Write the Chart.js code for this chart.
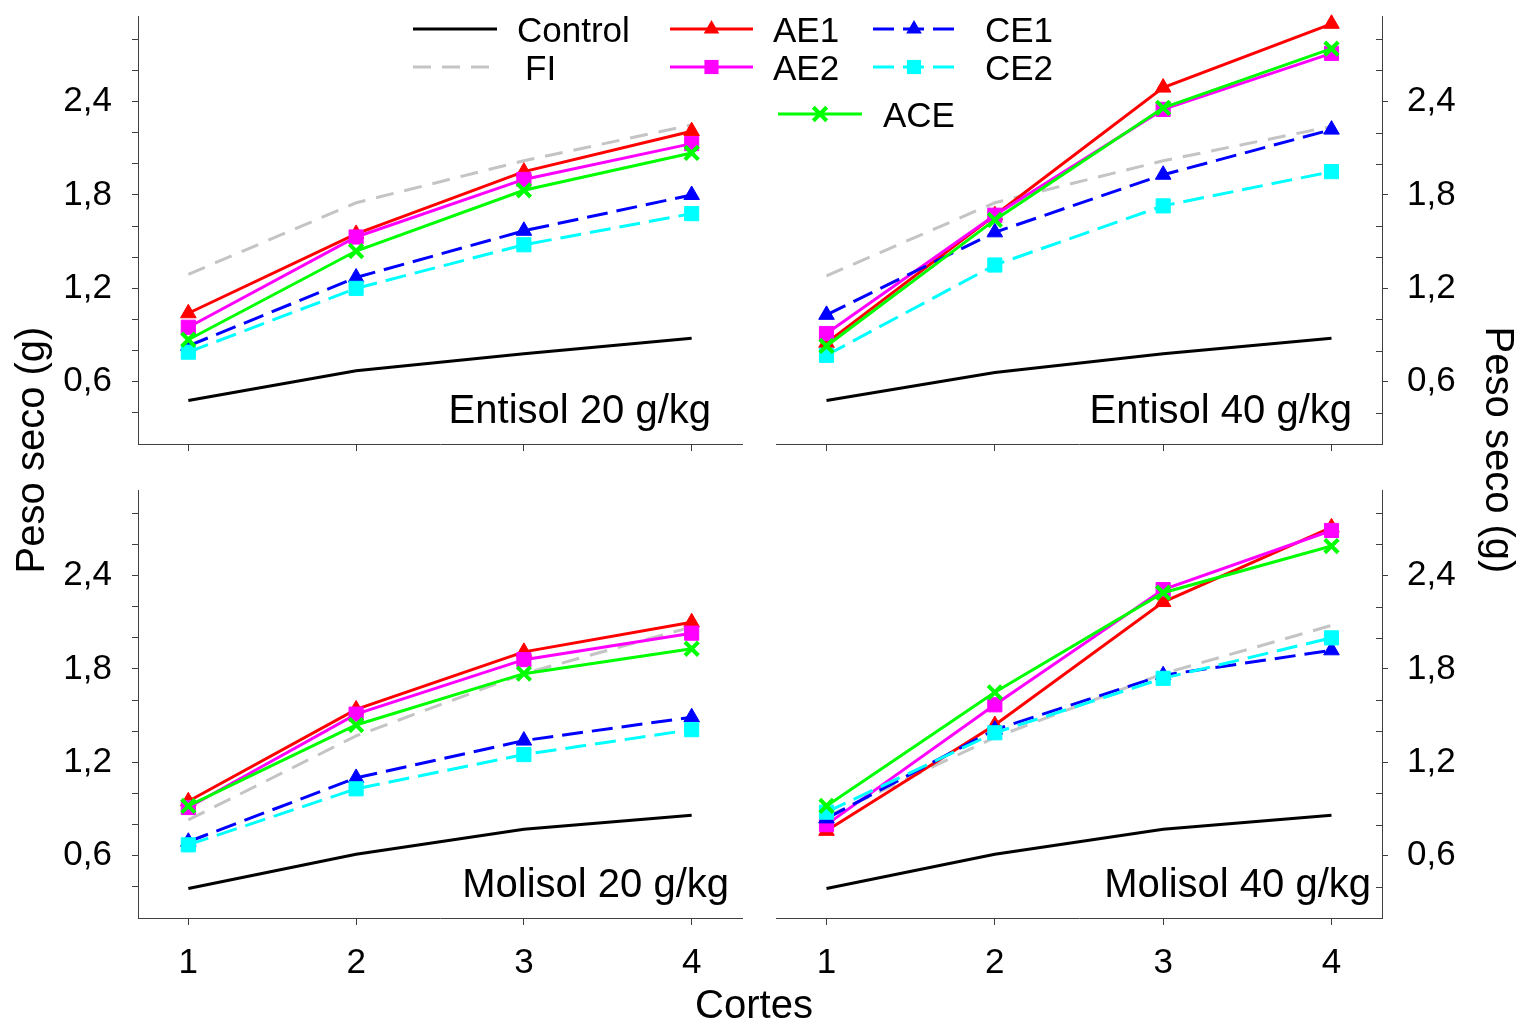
<!DOCTYPE html>
<html>
<head>
<meta charset="utf-8">
<title>Peso seco por corte</title>
<script src="https://cdn.jsdelivr.net/npm/chart.js@4"></script>
<style>
  body { margin: 0; background: #fff; }
  #wrap { position: relative; width: 1523px; height: 1025px; }
  #wrap canvas { position: absolute; left: 0; top: 0; }
</style>
</head>
<body>
<div id="wrap">
  <canvas id="c0" width="1523" height="1025"></canvas>
  <canvas id="c1" width="1523" height="1025"></canvas>
  <canvas id="c2" width="1523" height="1025"></canvas>
  <canvas id="c3" width="1523" height="1025"></canvas>
</div>
<script>
// dry weight (g) per cut; one row per panel:
// Entisol 20, Entisol 40, Molisol 20, Molisol 40
var cortes = [1, 2, 3, 4];
var panelNames = ['Entisol 20 g/kg', 'Entisol 40 g/kg', 'Molisol 20 g/kg', 'Molisol 40 g/kg'];

var control = [
  [0.48, 0.67, 0.78, 0.88],
  [0.48, 0.66, 0.78, 0.88],
  [0.39, 0.61, 0.77, 0.86],
  [0.39, 0.61, 0.77, 0.86]
];
var fi = [
  [1.29, 1.75, 2.02, 2.25],
  [1.28, 1.75, 2.02, 2.24],
  [0.83, 1.37, 1.77, 2.07],
  [0.85, 1.36, 1.77, 2.08]
];
var ae1 = [
  [1.04, 1.55, 1.95, 2.21],
  [0.85, 1.67, 2.49, 2.90],
  [0.95, 1.54, 1.91, 2.10],
  [0.76, 1.44, 2.23, 2.71]
];
var ae2 = [
  [0.95, 1.53, 1.90, 2.13],
  [0.91, 1.67, 2.35, 2.71],
  [0.91, 1.51, 1.86, 2.03],
  [0.80, 1.57, 2.31, 2.69]
];
var ce1 = [
  [0.83, 1.27, 1.57, 1.80],
  [1.03, 1.56, 1.93, 2.22],
  [0.69, 1.10, 1.34, 1.49],
  [0.84, 1.41, 1.76, 1.92]
];
var ce2 = [
  [0.79, 1.20, 1.48, 1.68],
  [0.77, 1.35, 1.73, 1.95],
  [0.67, 1.03, 1.25, 1.41],
  [0.88, 1.39, 1.74, 2.00]
];
var ace = [
  [0.87, 1.44, 1.83, 2.07],
  [0.83, 1.64, 2.36, 2.74],
  [0.92, 1.44, 1.77, 1.93],
  [0.92, 1.65, 2.29, 2.59]
];

var majorTicks = [0.6, 1.2, 1.8, 2.4];
var minorTicks = [0.4, 0.8, 1.0, 1.4, 1.6, 2.0, 2.2, 2.6, 2.8];

var FONT = '"Liberation Sans", Arial, Helvetica, sans-serif';
var AXIS = '#404040';
var W = 1523, H = 1025;
var X_AXIS_H = 60;

// plot area of each panel on the page
var boxes = [
  { left: 138, top: 16,  right: 742,  bottom: 444, side: 'left',  xlabels: false, nameRight: 31 },
  { left: 776, top: 16,  right: 1382, bottom: 444, side: 'right', xlabels: false, nameRight: 30 },
  { left: 138, top: 490, right: 742,  bottom: 918, side: 'left',  xlabels: true,  nameRight: 13 },
  { left: 776, top: 490, right: 1382, bottom: 918, side: 'right', xlabels: true,  nameRight: 11 }
];

var series = [
  { label: 'Control', data: control, color: '#000000', dash: [],      marker: null,       size: 0 },
  { label: 'FI',      data: fi,      color: '#c4c4c4', dash: [18, 11], marker: null,       size: 0 },
  { label: 'AE1',     data: ae1,     color: '#ff0000', dash: [],      marker: 'triangle', size: 9 },
  { label: 'AE2',     data: ae2,     color: '#ff00ff', dash: [],      marker: 'rect',     size: 10 },
  { label: 'CE1',     data: ce1,     color: '#0000ff', dash: [21, 9], marker: 'triangle', size: 9 },
  { label: 'CE2',     data: ce2,     color: '#00ffff', dash: [21, 9], marker: 'rect',     size: 10 },
  { label: 'ACE',     data: ace,     color: '#00ff00', dash: [],      marker: 'crossRot', size: 9.5 }
];

// legend layout: sample line ends, line y, text x, text baseline
var legendSlots = [
  { x0: 413, x1: 497, y: 29,  tx: 517, ty: 42 },
  { x0: 413, x1: 497, y: 67,  tx: 525, ty: 80 },
  { x0: 670, x1: 753, y: 29,  tx: 773, ty: 42 },
  { x0: 670, x1: 753, y: 67,  tx: 773, ty: 80 },
  { x0: 873, x1: 955, y: 29,  tx: 985, ty: 42 },
  { x0: 873, x1: 955, y: 67,  tx: 985, ty: 80 },
  { x0: 778, x1: 862, y: 114, tx: 883, ty: 127 }
];

function fmt(v) {
  return v.toFixed(1).replace('.', ',');
}

function isMajor(v) {
  return majorTicks.some(function(m) { return Math.abs(m - v) < 1e-6; });
}

// same shapes as chart.js point styles
function drawMarker(ctx, style, r, x, y, color) {
  ctx.save();
  ctx.fillStyle = color;
  ctx.strokeStyle = color;
  ctx.setLineDash([]);
  ctx.beginPath();
  if (style === 'triangle') {
    for (var i = 0; i < 3; i++) {
      var a = i * 2 * Math.PI / 3;
      var px = x + Math.sin(a) * r, py = y - Math.cos(a) * r;
      if (i === 0) ctx.moveTo(px, py); else ctx.lineTo(px, py);
    }
    ctx.closePath();
    ctx.fill();
  } else if (style === 'rect') {
    var s = r * Math.SQRT1_2;
    ctx.rect(x - s, y - s, 2 * s, 2 * s);
    ctx.fill();
  } else if (style === 'crossRot') {
    var o = r * Math.SQRT1_2;
    ctx.lineWidth = 4;
    ctx.moveTo(x - o, y - o); ctx.lineTo(x + o, y + o);
    ctx.moveTo(x - o, y + o); ctx.lineTo(x + o, y - o);
    ctx.stroke();
  }
  ctx.restore();
}

// legend and shared axis titles, drawn once on the first panel's canvas
var pagePlugin = {
  id: 'pageText',
  afterDraw: function(chart) {
    var ctx = chart.ctx;
    ctx.save();
    chart.data.datasets.forEach(function(ds, i) {
      var slot = legendSlots[i];
      var s = series[i];
      ctx.strokeStyle = ds.borderColor;
      ctx.lineWidth = 3;
      ctx.setLineDash(s.dash);
      ctx.beginPath();
      ctx.moveTo(slot.x0, slot.y);
      ctx.lineTo(slot.x1, slot.y);
      ctx.stroke();
      if (s.marker) drawMarker(ctx, s.marker, s.size, (slot.x0 + slot.x1) / 2, slot.y, s.color);
      ctx.setLineDash([]);
      ctx.fillStyle = '#000';
      ctx.font = '35px ' + FONT;
      ctx.textAlign = 'left';
      ctx.textBaseline = 'alphabetic';
      ctx.fillText(ds.label, slot.tx, slot.ty);
    });

    ctx.font = '40px ' + FONT;
    ctx.textAlign = 'center';
    ctx.textBaseline = 'middle';
    ctx.save();
    ctx.translate(33, 450);
    ctx.rotate(-Math.PI / 2);
    ctx.fillText('Peso seco (g)', 0, 0);
    ctx.restore();
    ctx.save();
    ctx.translate(1497, 450);
    ctx.rotate(Math.PI / 2);
    ctx.fillText('Peso seco (g)', 0, 0);
    ctx.restore();

    ctx.textBaseline = 'alphabetic';
    ctx.fillText('Cortes', 754, 1018);
    ctx.restore();
  }
};

// panel name and the inward minor ticks of the right-hand axes
var panelPlugin = {
  id: 'panelText',
  afterDraw: function(chart, args, opts) {
    var ctx = chart.ctx;
    var area = chart.chartArea;
    var b = boxes[opts.panel];
    ctx.save();
    ctx.fillStyle = '#000';
    ctx.font = '40px ' + FONT;
    ctx.textAlign = 'right';
    ctx.textBaseline = 'alphabetic';
    ctx.fillText(panelNames[opts.panel], area.right - b.nameRight, area.bottom - 21);
    if (b.side === 'right') {
      var y = chart.scales.y;
      ctx.strokeStyle = AXIS;
      ctx.lineWidth = 1;
      minorTicks.forEach(function(v) {
        var py = Math.round(y.getPixelForValue(v)) + 0.5;
        ctx.beginPath();
        ctx.moveTo(area.right - 6, py);
        ctx.lineTo(area.right, py);
        ctx.stroke();
      });
    }
    ctx.restore();
  }
};

function makePanel(p) {
  var b = boxes[p];
  var yAxisW = b.side === 'left' ? b.left : W - b.right;

  var datasets = series.map(function(s, i) {
    return {
      label: s.label,
      data: cortes.map(function(c, k) { return { x: c, y: s.data[p][k] }; }),
      borderColor: s.color,
      backgroundColor: s.color,
      borderWidth: 3,
      borderDash: s.dash,
      pointStyle: s.marker || 'circle',
      pointRadius: s.size,
      pointBorderWidth: s.marker === 'crossRot' ? 4 : 1,
      tension: 0,
      clip: false,
      order: series.length - i
    };
  });

  var plugins = [panelPlugin];
  if (p === 0) plugins.push(pagePlugin);

  return new Chart(document.getElementById('c' + p), {
    type: 'line',
    data: { datasets: datasets },
    options: {
      responsive: false,
      animation: false,
      events: [],
      layout: {
        padding: {
          left: b.side === 'left' ? 0 : b.left,
          right: b.side === 'right' ? 0 : W - b.right,
          top: b.top,
          bottom: H - b.bottom - X_AXIS_H
        }
      },
      plugins: {
        legend: { display: false },
        tooltip: { enabled: false },
        panelText: { panel: p }
      },
      scales: {
        x: {
          type: 'linear',
          position: 'bottom',
          min: 0.7,
          max: 4.3,
          afterBuildTicks: function(axis) {
            axis.ticks = cortes.map(function(v) { return { value: v }; });
          },
          afterFit: function(axis) {
            axis.height = X_AXIS_H;
            axis.paddingLeft = 0;
            axis.paddingRight = 0;
          },
          border: { display: true, color: AXIS, width: 1 },
          grid: { drawOnChartArea: false, drawTicks: true, tickLength: 7, color: AXIS, lineWidth: 1 },
          ticks: {
            autoSkip: false,
            maxRotation: 0,
            padding: 17,
            color: '#000',
            font: { family: FONT, size: 35 },
            callback: function(v) { return b.xlabels ? String(v) : ''; }
          }
        },
        y: {
          type: 'linear',
          position: b.side,
          min: 0.2,
          max: 2.95,
          afterBuildTicks: function(axis) {
            axis.ticks = majorTicks.concat(minorTicks)
              .sort(function(a, c) { return a - c; })
              .map(function(v) { return { value: v }; });
          },
          afterFit: function(axis) {
            axis.width = yAxisW;
            axis.paddingTop = 0;
            axis.paddingBottom = 0;
          },
          border: { display: true, color: AXIS, width: 1 },
          grid: {
            drawOnChartArea: false,
            drawTicks: true,
            tickLength: 6,
            color: AXIS,
            lineWidth: 1,
            tickColor: function(ctx) {
              if (b.side === 'right' && ctx.tick && !isMajor(ctx.tick.value)) return 'rgba(0,0,0,0)';
              return AXIS;
            }
          },
          ticks: {
            autoSkip: false,
            padding: b.side === 'left' ? 20 : 19,
            color: '#000',
            font: { family: FONT, size: 35 },
            callback: function(v) { return isMajor(v) ? fmt(v) : ''; }
          }
        }
      }
    },
    plugins: plugins
  });
}

window.onload = function() {
  for (var p = 0; p < 4; p++) makePanel(p);
};
</script>
</body>
</html>
